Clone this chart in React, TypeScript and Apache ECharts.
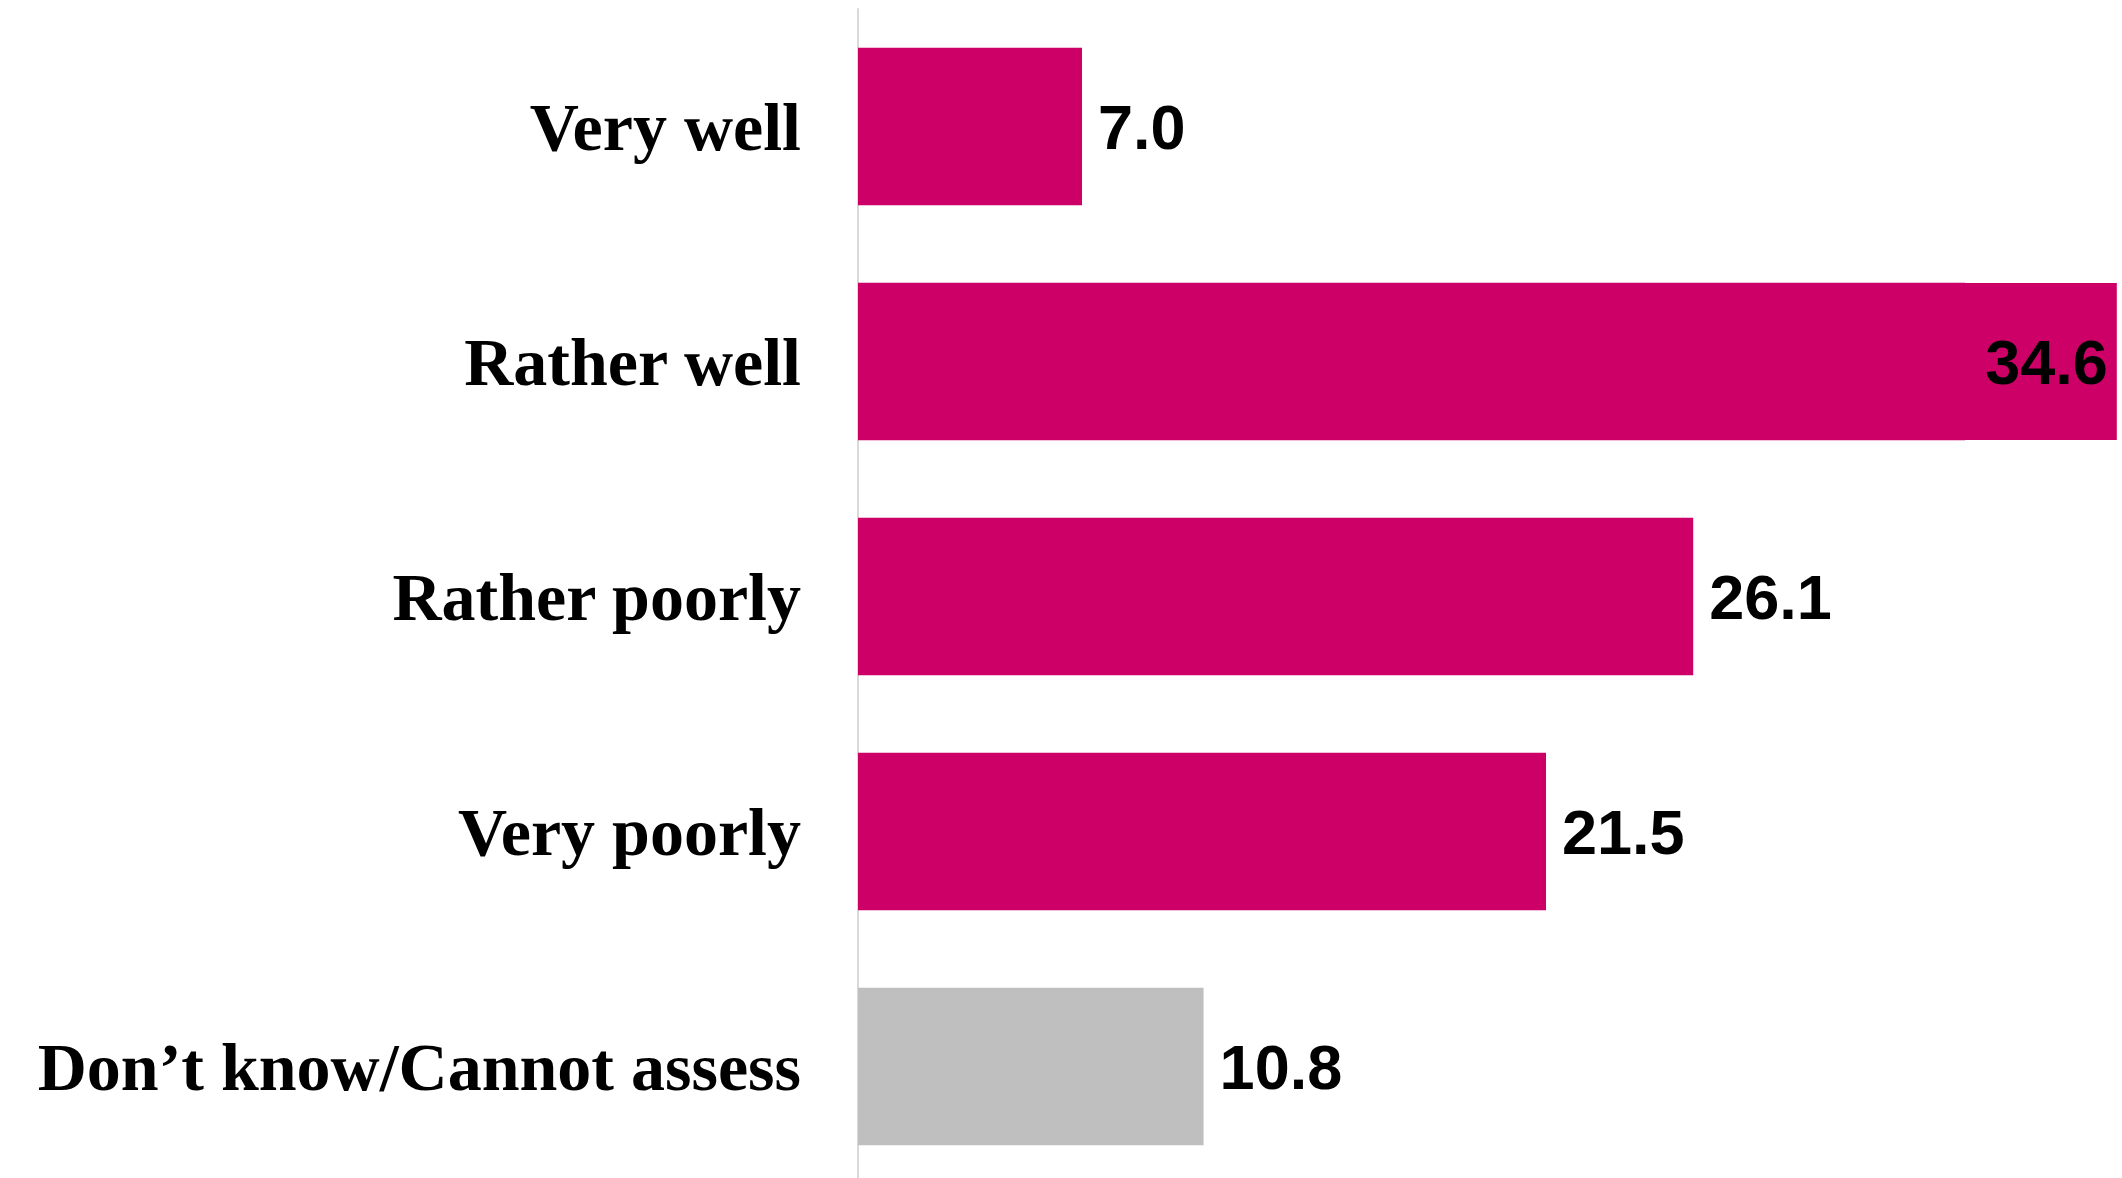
import React, { useEffect, useRef } from "react";
import * as echarts from "echarts";

const categories = [
  "Very well",
  "Rather well",
  "Rather poorly",
  "Very poorly",
  "Don\u2019t know/Cannot assess",
];
const values = [7.0, 34.6, 26.1, 21.5, 10.8];
const barColors = ["#CC0066", "#CC0066", "#CC0066", "#CC0066", "#BFBFBF"];

export default function App() {
  const ref = useRef<HTMLDivElement>(null);
  useEffect(() => {
    if (!ref.current) return;
    const chart = echarts.init(ref.current, null, { renderer: "svg" });
    const valueFont = {
      fontFamily: "Liberation Sans, Arial, sans-serif",
      fontWeight: "bold" as const,
      fontSize: 63,
      color: "#000000",
    };
    chart.setOption({
      animation: false,
      backgroundColor: "#ffffff",
      grid: { left: 858, right: 0, top: 9, bottom: 6, containLabel: false },
      xAxis: {
        type: "value",
        min: 0,
        max: 39.5,
        show: false,
      },
      yAxis: {
        type: "category",
        data: categories,
        inverse: true,
        axisLine: { show: true, lineStyle: { color: "#D9D9D9", width: 2 } },
        axisTick: { show: false },
        axisLabel: {
          margin: 57,
          fontFamily: "Liberation Serif, Times New Roman, serif",
          fontWeight: "bold",
          fontSize: 68,
          color: "#000000",
        },
        splitLine: { show: false },
      },
      series: [
        {
          type: "bar",
          barCategoryGap: "33%",
          data: values.map((v, i) => {
            const item: any = { value: v, itemStyle: { color: barColors[i] } };
            if (i === 1) {
              item.label = {
                show: true,
                position: "right",
                distance: -1,
                ...valueFont,
                lineHeight: 64,
                backgroundColor: "#CC0066",
                padding: [47, 9, 46, 21],
              };
            }
            return item;
          }),
          label: {
            show: true,
            position: "right",
            distance: 16,
            formatter: (p: any) => Number(p.value).toFixed(1),
            ...valueFont,
          },
        },
      ],
    });
    return () => chart.dispose();
  }, []);
  return (
    <div
      ref={ref}
      style={{ position: "fixed", left: 0, top: 0, width: 2122, height: 1190, background: "#fff" }}
    />
  );
}
